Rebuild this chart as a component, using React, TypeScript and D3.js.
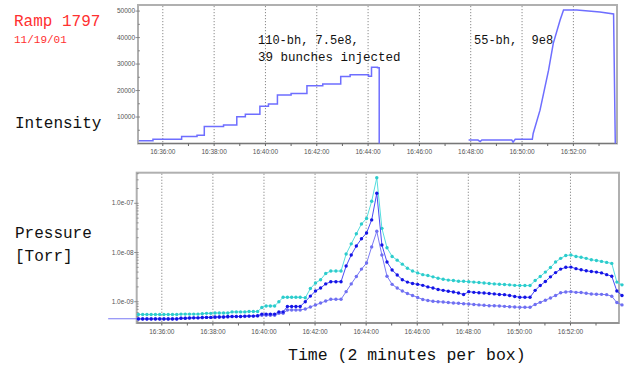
import React from "react";
import * as d3 from "d3";

// ---------- data ----------
const intensityStepTimes = [
  "16:35:04", "16:35:37", "16:36:44", "16:37:20", "16:37:37", "16:38:22", "16:38:53",
  "16:39:13", "16:39:47", "16:40:07", "16:40:28", "16:41:00", "16:41:37", "16:42:14",
  "16:42:56", "16:43:18", "16:44:01", "16:44:08", "16:44:22", "16:44:26",
];
const intensityStepValues = [
  1000, 1600, 2600, 3100, 6400, 7000, 10100, 11000, 14100, 14900, 18300, 18900, 21800, 22500,
  25300, 26000, 25400, 28800, 28600, 0,
];
const intensityRampTimes = [
  "16:47:55", "16:48:17", "16:48:22", "16:48:26", "16:49:36", "16:49:39", "16:49:44",
  "16:50:24", "16:50:26", "16:50:42", "16:51:02", "16:51:13", "16:51:29", "16:51:37",
  "16:52:08", "16:53:02", "16:53:34", "16:53:38",
];
const intensityRampValues = [
  1300, 1300, 700, 1300, 1300, 500, 1600, 1600, 3800, 12600, 27700, 37800, 46600, 50400,
  50400, 49700, 48900, 0,
];
const intensityTicks = [10000, 20000, 30000, 40000, 50000];

const timeTickLabels = [
  "16:36:00", "16:38:00", "16:40:00", "16:42:00", "16:44:00", "16:46:00", "16:48:00",
  "16:50:00", "16:52:00",
];

const pressureTimes = [
  "16:35:05", "16:35:15", "16:35:25", "16:35:35", "16:35:45", "16:35:55",
  "16:36:05", "16:36:15", "16:36:25", "16:36:35", "16:36:45", "16:36:55",
  "16:37:05", "16:37:15", "16:37:25", "16:37:35", "16:37:45", "16:37:55",
  "16:38:05", "16:38:15", "16:38:25", "16:38:35", "16:38:45", "16:38:55",
  "16:39:05", "16:39:15", "16:39:25", "16:39:35", "16:39:45", "16:39:55",
  "16:40:05", "16:40:15", "16:40:25", "16:40:35", "16:40:45", "16:40:55",
  "16:41:05", "16:41:15", "16:41:25",
  "16:41:37", "16:41:49",
  "16:42:01", "16:42:13", "16:42:25", "16:42:37", "16:42:49",
  "16:43:01", "16:43:13", "16:43:25", "16:43:37", "16:43:49",
  "16:44:01", "16:44:13", "16:44:25", "16:44:37", "16:44:49",
  "16:45:01", "16:45:13", "16:45:25", "16:45:37", "16:45:49",
  "16:46:01", "16:46:13", "16:46:25", "16:46:37", "16:46:49",
  "16:47:01", "16:47:13", "16:47:25", "16:47:37", "16:47:49",
  "16:48:01", "16:48:13", "16:48:25", "16:48:37", "16:48:49",
  "16:49:01", "16:49:13", "16:49:25", "16:49:37", "16:49:49",
  "16:50:01", "16:50:13", "16:50:25", "16:50:37", "16:50:49",
  "16:51:01", "16:51:13", "16:51:25", "16:51:37", "16:51:49",
  "16:52:01", "16:52:13", "16:52:25", "16:52:37", "16:52:49",
  "16:53:01", "16:53:13", "16:53:25", "16:53:37", "16:53:49",
  "16:54:01",
];

const pressureCyan = [
  5.5e-10, 5.5e-10, 5.5e-10, 5.5e-10, 5.5e-10, 5.5e-10, 5.5e-10, 5.5e-10, 5.5e-10, 5.5e-10,
  5.6e-10, 5.6e-10, 5.6e-10, 5.6e-10, 5.6e-10, 5.7e-10,
  5.8e-10, 5.8e-10, 5.9e-10, 5.9e-10, 5.9e-10, 5.9e-10,
  6.2e-10, 6.2e-10, 6.2e-10, 6.2e-10, 6.3e-10, 6.3e-10, 6.3e-10,
  7.6e-10, 8.2e-10, 8.2e-10, 8.2e-10, 1.0e-9,
  1.23e-9, 1.23e-9, 1.23e-9, 1.23e-9, 1.23e-9,
  1.2e-9, 1.85e-9, 2.4e-9, 2.8e-9, 3.75e-9, 4.2e-9, 4.2e-9, 4.2e-9,
  9.3e-9, 1.5e-8, 2.4e-8, 3.8e-8, 4.9e-8, 1.1e-7, 3.3e-7,
  3.1e-8, 1.25e-8, 8.3e-9, 7.0e-9, 5.8e-9, 4.8e-9, 4.2e-9,
  3.85e-9, 3.55e-9, 3.4e-9, 3.2e-9, 3.0e-9, 2.85e-9, 2.75e-9, 2.7e-9, 2.6e-9, 2.6e-9,
  2.55e-9, 2.5e-9, 2.45e-9, 2.4e-9, 2.35e-9, 2.3e-9, 2.27e-9, 2.23e-9, 2.2e-9, 2.15e-9,
  2.13e-9, 2.13e-9, 2.13e-9,
  2.7e-9, 3.25e-9, 4.0e-9, 4.95e-9, 6.4e-9, 7.6e-9, 8.7e-9, 8.9e-9,
  8.3e-9, 8.0e-9, 7.6e-9, 7.1e-9, 6.9e-9, 6.6e-9, 6.3e-9, 6.0e-9,
  2.5e-9, 2.2e-9,
];

const pressureBlue = [
  4.45e-10, 4.45e-10, 4.45e-10, 4.45e-10, 4.45e-10, 4.45e-10, 4.45e-10, 4.45e-10, 4.45e-10, 4.45e-10,
  4.6e-10, 4.6e-10, 4.7e-10, 4.7e-10, 4.7e-10, 4.8e-10, 4.8e-10, 4.8e-10,
  4.9e-10, 4.9e-10, 4.9e-10, 5.0e-10, 5.0e-10, 5.0e-10, 5.0e-10, 5.1e-10, 5.1e-10, 5.1e-10, 5.2e-10,
  5.6e-10, 5.6e-10, 5.6e-10, 5.6e-10, 6.2e-10, 6.2e-10,
  8.0e-10, 8.0e-10, 8.0e-10, 8.0e-10,
  1.0e-9, 1.3e-9, 1.65e-9, 1.9e-9, 2.3e-9, 2.55e-9, 2.55e-9, 2.55e-9,
  5.3e-9, 8.9e-9, 1.36e-8, 1.9e-8, 2.5e-8, 4.6e-8, 1.6e-7,
  1.42e-8, 6.4e-9, 4.4e-9, 3.5e-9, 2.8e-9, 2.5e-9, 2.35e-9,
  2.25e-9, 2.15e-9, 2.0e-9, 1.9e-9, 1.77e-9, 1.7e-9, 1.63e-9, 1.58e-9, 1.5e-9, 1.4e-9,
  1.6e-9, 1.55e-9, 1.52e-9, 1.5e-9, 1.47e-9, 1.44e-9, 1.4e-9, 1.39e-9, 1.34e-9, 1.28e-9,
  1.23e-9, 1.23e-9, 1.23e-9,
  1.7e-9, 2.13e-9, 2.57e-9, 3.2e-9, 3.9e-9, 4.6e-9, 5.0e-9, 5.05e-9,
  4.7e-9, 4.45e-9, 4.25e-9, 4.1e-9, 4.0e-9, 3.85e-9, 3.55e-9, 3.3e-9,
  1.65e-9, 1.34e-9,
];

const pressurePurple = [
  4.5e-10, 4.5e-10, 4.5e-10, 4.5e-10, 4.5e-10, 4.5e-10, 4.5e-10, 4.5e-10, 4.5e-10, 4.5e-10,
  4.6e-10, 4.6e-10, 4.6e-10, 4.7e-10, 4.7e-10, 4.7e-10, 4.8e-10, 4.8e-10,
  4.8e-10, 4.9e-10, 4.9e-10, 4.9e-10, 5.0e-10, 5.0e-10, 5.0e-10, 5.0e-10, 5.1e-10, 5.1e-10, 5.1e-10,
  5.3e-10, 5.3e-10, 5.3e-10, 5.3e-10, 5.8e-10, 5.8e-10,
  6.8e-10, 6.8e-10, 6.8e-10, 6.8e-10,
  7.1e-10, 7.8e-10, 8.6e-10, 9.4e-10, 1.03e-9, 1.12e-9, 1.12e-9, 1.12e-9,
  1.6e-9, 2.3e-9, 3.25e-9, 4.6e-9, 6.1e-9, 1.3e-8, 2.7e-8,
  8.9e-9, 3.3e-9, 2.25e-9, 1.9e-9, 1.65e-9, 1.47e-9, 1.34e-9,
  1.22e-9, 1.11e-9, 1.06e-9, 1.02e-9, 1.0e-9, 9.86e-10, 9.6e-10, 9.4e-10, 9.3e-10, 9.1e-10,
  9.0e-10, 8.8e-10, 8.6e-10, 8.45e-10, 8.3e-10, 8.25e-10, 8.2e-10, 8.05e-10, 7.9e-10, 7.8e-10,
  7.7e-10, 7.7e-10, 7.7e-10,
  8.8e-10, 9.7e-10, 1.07e-9, 1.19e-9, 1.34e-9, 1.52e-9, 1.58e-9, 1.6e-9,
  1.55e-9, 1.54e-9, 1.48e-9, 1.43e-9, 1.42e-9, 1.41e-9, 1.39e-9, 1.29e-9,
  9.6e-10, 8.6e-10,
];
const pressureLeadTime = "16:33:54";
const pressureLeadValue = 4.5e-10;

const pressureTicks = [1e-9, 1e-8, 1e-7];
const pressureTickLabels = ["1.0e-09", "1.0e-08", "1.0e-07"];

// ---------- component ----------
const parse = d3.timeParse("%H:%M:%S");
const MONO = "'Liberation Mono', 'DejaVu Sans Mono', monospace";
const SANS = "'Liberation Sans', Arial, sans-serif";

export default function App() {
  // top panel
  const tL = 138, tR = 617, tT = 5, tB = 143.5;
  const xTop = d3.scaleTime().domain([parse("16:35:02")!, parse("16:53:42")!]).range([tL, tR]);
  const yTop = d3.scaleLinear().domain([0, 52300]).range([tB, tT]);

  // bottom panel
  const bL = 136.7, bR = 619, bT = 172.7, bB = 323;
  const xBot = d3.scaleTime().domain([parse("16:35:01")!, parse("16:53:54")!]).range([bL, bR]);
  const yBot = d3.scaleLog().domain([3.69e-10, 4.19e-7]).range([bB, bT]);

  const stepData = intensityStepTimes.map((t, i) => ({ t: parse(t)!, v: intensityStepValues[i] }));
  const rampData = intensityRampTimes.map((t, i) => ({ t: parse(t)!, v: intensityRampValues[i] }));
  const stepLine = d3.line<any>().x((d) => xTop(d.t)).y((d) => yTop(d.v)).curve(d3.curveStepAfter);
  const rampLine = d3.line<any>().x((d) => xTop(d.t)).y((d) => yTop(d.v));

  const times = pressureTimes.map((t) => parse(t)!);
  const mk = (vals: number[]) => vals.map((v, i) => ({ t: times[i], v }));
  const series = [
    { key: "purple", data: [{ t: parse(pressureLeadTime)!, v: pressureLeadValue, lead: true }, ...mk(pressurePurple)], line: "#7a7af5", dot: "#6f6ff2" },
    { key: "cyan", data: mk(pressureCyan), line: "#55dede", dot: "#2ccccc" },
    { key: "blue", data: mk(pressureBlue), line: "#4a4af5", dot: "#1414e6" },
  ];
  const pLine = d3.line<any>().x((d) => xBot(d.t)).y((d) => yBot(d.v));

  const gridTimes = timeTickLabels.map((s) => parse(s)!);
  const minorTop = d3.timeMinute.range(xTop.domain()[0], xTop.domain()[1]);
  const minorBot = d3.timeMinute.range(xBot.domain()[0], xBot.domain()[1]);
  const minorYTop = d3.range(0, 52300, 5000).filter((v) => v > 0);
  const minorYBot = yBot.ticks();

  const tickFont = { fontFamily: SANS, fontSize: 6.5, fill: "#555" } as const;

  return (
    <svg width={625} height={367} style={{ position: "absolute", left: 0, top: 0, background: "#fff" }}>
      <rect x={0} y={0} width={625} height={367} fill="#fff" />

      {/* ---------- top panel ---------- */}
      <rect x={tL} y={tT} width={tR - tL} height={tB - tT} fill="#fff" stroke="#b0b0b0" strokeWidth={2} />
      {gridTimes.map((d, i) => (
        <line key={"gt" + i} x1={xTop(d)} x2={xTop(d)} y1={tT + 1} y2={tB} stroke="#8a8a8a" strokeWidth={1} strokeDasharray="1.2,1.8" />
      ))}
      <line x1={tL} x2={tR} y1={tB} y2={tB} stroke="#777" strokeWidth={1} />
      {minorTop.map((d, i) => (
        <line key={"mt" + i} x1={xTop(d)} x2={xTop(d)} y1={tB} y2={tB + 2.5} stroke="#666" strokeWidth={1} />
      ))}
      {minorYTop.map((v, i) => (
        <line key={"myt" + i} x1={tL} x2={tL + 2} y1={yTop(v)} y2={yTop(v)} stroke="#777" strokeWidth={0.8} />
      ))}
      {intensityTicks.map((v, i) => (
        <g key={"yt" + i}>
          <line x1={tL - 2.5} x2={tL} y1={yTop(v)} y2={yTop(v)} stroke="#777" strokeWidth={0.8} />
          <text x={tL - 3} y={yTop(v)} dy="0.33em" textAnchor="end" {...tickFont}>{v}</text>
        </g>
      ))}
      {gridTimes.map((d, i) => (
        <text key={"xt" + i} x={xTop(d)} y={tB + 10.5} textAnchor="middle" {...tickFont}>{timeTickLabels[i]}</text>
      ))}
      <path d={stepLine(stepData) || ""} fill="none" stroke="#6e6eff" strokeWidth={1.5} />
      <path d={rampLine(rampData) || ""} fill="none" stroke="#6e6eff" strokeWidth={1.5} />

      {/* annotations */}
      <text x={258} y={44} fontFamily={MONO} fontSize={12} fill="#111">110-bh, 7.5e8,</text>
      <text x={258} y={61} fontFamily={MONO} fontSize={12.5} fill="#111">39 bunches injected</text>
      <text x={474} y={44} fontFamily={MONO} fontSize={12} fill="#111" style={{ whiteSpace: "pre" }}>55-bh,  9e8</text>

      {/* ---------- bottom panel ---------- */}
      <rect x={bL} y={bT} width={bR - bL} height={bB - bT} fill="#fff" stroke="#b0b0b0" strokeWidth={2} />
      {gridTimes.map((d, i) => (
        <line key={"gb" + i} x1={xBot(d)} x2={xBot(d)} y1={bT + 1} y2={bB} stroke="#8a8a8a" strokeWidth={1} strokeDasharray="1.2,1.8" />
      ))}
      <line x1={bL} x2={bR} y1={bB} y2={bB} stroke="#777" strokeWidth={1} />
      {minorBot.map((d, i) => (
        <line key={"mb" + i} x1={xBot(d)} x2={xBot(d)} y1={bB} y2={bB + 2.5} stroke="#666" strokeWidth={1} />
      ))}
      {minorYBot.map((v, i) => (
        <line key={"myb" + i} x1={bL} x2={bL + 2} y1={yBot(v)} y2={yBot(v)} stroke="#777" strokeWidth={0.7} />
      ))}
      {pressureTicks.map((v, i) => (
        <g key={"ybt" + i}>
          <line x1={bL - 2.5} x2={bL} y1={yBot(v)} y2={yBot(v)} stroke="#777" strokeWidth={0.8} />
          <text x={bL - 3} y={yBot(v)} dy="0.33em" textAnchor="end" {...tickFont}>{pressureTickLabels[i]}</text>
        </g>
      ))}
      {gridTimes.map((d, i) => (
        <text key={"xb" + i} x={xBot(d)} y={bB + 11} textAnchor="middle" {...tickFont}>{timeTickLabels[i]}</text>
      ))}
      {series.map((s) => (
        <g key={s.key}>
          <path d={pLine(s.data) || ""} fill="none" stroke={s.line} strokeWidth={1} />
          {s.data.filter((d: any) => !d.lead).map((d, i) => (
            <circle key={i} cx={xBot(d.t)} cy={yBot(d.v)} r={1.7} fill={s.dot} />
          ))}
        </g>
      ))}

      {/* ---------- labels ---------- */}
      <text x={14} y={26} fontFamily={MONO} fontSize={16} fill="#ff3030">Ramp 1797</text>
      <text x={14} y={43} fontFamily={MONO} fontSize={11} fill="#ff3030">11/19/01</text>
      <text x={15} y={128} fontFamily={MONO} fontSize={16} fill="#111">Intensity</text>
      <text x={15} y={238} fontFamily={MONO} fontSize={16} fill="#111">Pressure</text>
      <text x={15} y={261} fontFamily={MONO} fontSize={16} fill="#111">[Torr]</text>
      <text x={288} y={360} fontFamily={MONO} fontSize={16.5} fill="#111">Time (2 minutes per box)</text>
    </svg>
  );
}
